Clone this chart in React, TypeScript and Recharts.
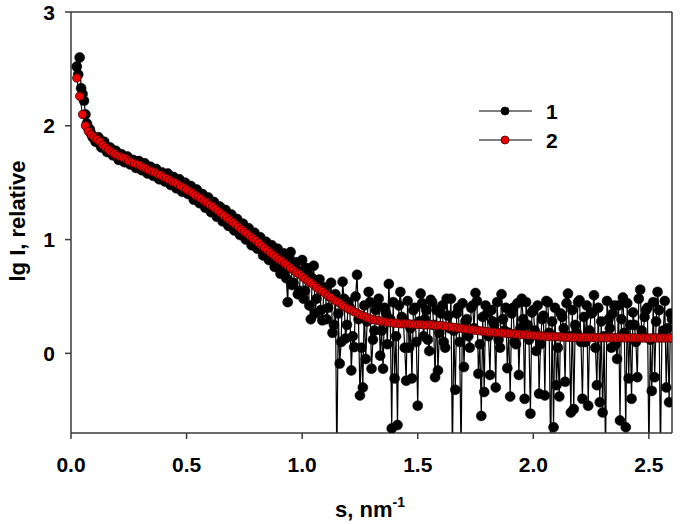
import {
  Line,
  LineChart,
  ReferenceLine,
  XAxis,
  YAxis,
} from "recharts";

// s grid: first point and spacing of the measurement, nm^-1
const S_START = 0.025;
const S_STEP = 0.0125;

// curve 1 – experimental lg I, points on the grid
const measured = [
  2.52, 2.60, 2.28, 2.10, 1.98, 1.93, 1.89, 1.87, 1.84, 1.82,
  1.80, 1.78, 1.77, 1.75, 1.74, 1.72, 1.72, 1.70, 1.69, 1.68,
  1.66, 1.67, 1.64, 1.64, 1.62, 1.63, 1.59, 1.61, 1.57, 1.57,
  1.55, 1.56, 1.52, 1.53, 1.49, 1.51, 1.46, 1.49, 1.44, 1.46,
  1.40, 1.42, 1.36, 1.39, 1.33, 1.35, 1.29, 1.32, 1.25, 1.28,
  1.21, 1.24, 1.17, 1.20, 1.13, 1.17, 1.08, 1.12, 1.04, 1.08,
  1.00, 1.04, 0.95, 1.00, 0.91, 0.96, 0.86, 0.93, 0.82, 0.90,
  0.76, 0.86, 0.72, 0.45, 0.89, 0.62, 0.80, 0.55, 0.82, 0.55,
  0.70, 0.30, 0.77, 0.48, 0.65, 0.29, 0.58, 0.40, 0.62, 0.25,
  -0.95, -0.09, 0.63, 0.13, 0.45, -0.15, 0.055, 0.69, -0.37, -0.30,
  -0.05, 0.54, -0.135, 0.20, 0.42, -0.02, -0.135, 0.35, 0.61, -0.66,
  -0.22, -0.63, 0.54, 0.30, -0.24, 0.05, -0.22, 0.40, -0.46, 0.525,
  0.15, 0.38, 0.02, 0.45, -0.21, -0.15, 0.35, 0.10, 0.48, 0.22,
  -0.90, -0.32, 0.40, -0.90, -0.12, 0.30, 0.05, 0.42, 0.53, -0.18,
  -0.55, -0.34, 0.35, -0.19, 0.28, -0.30, 0.12, 0.52, 0.20, -0.13,
  -0.38, 0.40, 0.08, -0.19, 0.48, -0.40, 0.25, -0.53, 0.38, 0.02,
  -0.355, 0.30, -0.37, 0.45, -0.90, -0.65, -0.28, -0.38, 0.32, -0.25,
  0.525, -0.52, -0.49, 0.18, 0.466, -0.40, 0.10, -0.46, 0.35, 0.51,
  -0.28, -0.43, -0.52, -0.90, 0.30, 0.05, 0.42, -0.05, -0.59, 0.49,
  -0.65, -0.22, -0.40, 0.25, -0.21, 0.56, 0.15, 0.38, -0.90, -0.33,
  -0.21, 0.54, -0.90, 0.20, -0.30, -0.43, 0.30,
];

// curve 1 – points half a step after each grid point
const measuredHalf = [
  2.45, 2.33, 2.22, 2.02, 1.97, 1.90, 1.86, 1.90, 1.81, 1.86,
  1.77, 1.81, 1.74, 1.78, 1.70, 1.75, 1.68, 1.73, 1.66, 1.70,
  1.63, 1.69, 1.61, 1.67, 1.58, 1.64, 1.56, 1.62, 1.53, 1.59,
  1.51, 1.58, 1.48, 1.55, 1.45, 1.53, 1.42, 1.50, 1.40, 1.47,
  1.35, 1.44, 1.32, 1.40, 1.28, 1.37, 1.24, 1.33, 1.20, 1.29,
  1.16, 1.26, 1.12, 1.22, 1.08, 1.18, 1.04, 1.14, 1.00, 1.10,
  0.95, 1.06, 0.92, 1.02, 0.86, 0.98, 0.82, 0.95, 0.76, 0.92,
  0.70, 0.88, 0.66, 0.85, 0.60, 0.78, 0.52, 0.72, 0.48, 0.75,
  0.42, 0.66, 0.35, 0.60, 0.38, 0.55, 0.30, 0.50, 0.18, 0.52,
  0.35, 0.10, 0.48, 0.25, 0.40, 0.15, 0.50, 0.30, 0.05, 0.42,
  0.28, 0.45, 0.12, 0.38, 0.48, 0.20, 0.40, 0.08, 0.30, 0.45,
  0.15, 0.42, 0.32, 0.05, 0.46, 0.22, 0.38, 0.10, 0.28, 0.44,
  0.30, 0.12, 0.47, 0.25, 0.38, 0.18, 0.42, 0.05, 0.33, 0.48,
  0.20, 0.35, 0.10, 0.44, 0.28, 0.15, 0.40, 0.22, 0.46, 0.08,
  0.32, 0.42, 0.15, 0.38, 0.25, 0.45, 0.05, 0.30, 0.40, 0.18,
  0.35, 0.10, 0.44, 0.22, 0.30, 0.45, 0.12, 0.36, 0.20, 0.42,
  0.08, 0.33, 0.46, 0.18, 0.28, 0.40, 0.05, 0.35, 0.22, 0.44,
  0.15, 0.38, 0.25, 0.45, 0.10, 0.32, 0.42, 0.20, 0.36, 0.05,
  0.40, 0.28, 0.15, 0.46, 0.22, 0.35, 0.08, 0.42, 0.30, 0.18,
  0.44, 0.25, 0.36, 0.10, 0.48, 0.20, 0.32, 0.40, 0.12, 0.45,
  0.28, 0.38, 0.15, 0.46, 0.22, 0.35,
];

// curve 2 – fit, on the grid
const fitted = [
  2.42, 2.26, 2.10, 2.00, 1.95, 1.92, 1.90, 1.88, 1.86, 1.83,
  1.81, 1.79, 1.77, 1.755, 1.74, 1.73, 1.72, 1.71, 1.69, 1.68,
  1.67, 1.66, 1.65, 1.635, 1.625, 1.61, 1.60, 1.59, 1.575, 1.565,
  1.55, 1.54, 1.525, 1.51, 1.50, 1.485, 1.47, 1.455, 1.44, 1.425,
  1.41, 1.39, 1.375, 1.36, 1.34, 1.325, 1.305, 1.29, 1.27, 1.25,
  1.23, 1.21, 1.19, 1.17, 1.15, 1.13, 1.11, 1.09, 1.07, 1.05,
  1.03, 1.01, 0.99, 0.97, 0.945, 0.925, 0.905, 0.885, 0.865, 0.845,
  0.825, 0.81, 0.79, 0.77, 0.75, 0.73, 0.71, 0.695, 0.675, 0.655,
  0.635, 0.62, 0.60, 0.58, 0.56, 0.545, 0.525, 0.505, 0.49, 0.47,
  0.455, 0.44, 0.42, 0.405, 0.39, 0.38, 0.365, 0.355, 0.34, 0.33,
  0.32, 0.31, 0.30, 0.295, 0.29, 0.285, 0.28, 0.275, 0.27, 0.27,
  0.265, 0.265, 0.26, 0.26, 0.26, 0.26, 0.255, 0.255, 0.255, 0.255,
  0.25, 0.25, 0.25, 0.25, 0.245, 0.245, 0.245, 0.24, 0.237, 0.233,
  0.23, 0.227, 0.223, 0.22, 0.217, 0.213, 0.21, 0.207, 0.203, 0.2,
  0.197, 0.193, 0.19, 0.188, 0.186, 0.184, 0.182, 0.18, 0.178, 0.176,
  0.174, 0.172, 0.17, 0.168, 0.166, 0.164, 0.162, 0.16, 0.158, 0.156,
  0.154, 0.152, 0.15, 0.149, 0.148, 0.147, 0.146, 0.145, 0.144, 0.143,
  0.142, 0.142, 0.141, 0.141, 0.14, 0.14, 0.14, 0.139, 0.139, 0.139,
  0.138, 0.138, 0.138, 0.138, 0.137, 0.137, 0.137, 0.137, 0.137, 0.136,
  0.136, 0.136, 0.136, 0.136, 0.136, 0.136, 0.135, 0.135, 0.135, 0.135,
  0.135, 0.135, 0.135, 0.135, 0.135, 0.135, 0.135,
];

const xTicks = [0, 0.5, 1, 1.5, 2, 2.5];
const yTicks = [0, 1, 2, 3];

const sAt = (i: number) => Number((S_START + i * S_STEP).toFixed(5));

const measuredData: { s: number; v: number }[] = [];
measured.forEach((v, i) => {
  measuredData.push({ s: sAt(i), v });
  if (i < measuredHalf.length) {
    measuredData.push({ s: sAt(i + 0.5), v: measuredHalf[i] });
  }
});

const fittedData = fitted.map((v, i) => ({ s: sAt(i), v }));

const FONT = "'Liberation Sans', Arial, sans-serif";
const AXIS = "#3a3a3a";

const tickStyle = {
  fontFamily: FONT,
  fontSize: 21,
  fontWeight: 700,
  fill: "#000",
};

function LegendOverlay() {
  const rows = [
    { name: "1", fill: "#000", stroke: "#000" },
    { name: "2", fill: "#f00000", stroke: "#3a0000" },
  ];
  return (
    <svg
      width={100}
      height={60}
      style={{ position: "absolute", left: 470, top: 101 }}
    >
      {rows.map((r, i) => (
        <g key={r.name} transform={`translate(0, ${10 + i * 29})`}>
          <line x1={9} x2={62} y1={0} y2={0} stroke="#000" strokeWidth={1} />
          <circle cx={35} cy={0} r={4} fill={r.fill} stroke={r.stroke} strokeWidth={0.8} />
          <text
            x={76}
            y={0}
            dy="0.36em"
            fontFamily={FONT}
            fontSize={21}
            fontWeight={700}
          >
            {r.name}
          </text>
        </g>
      ))}
    </svg>
  );
}

function XTitle() {
  return (
    <text x={335} y={517} fontFamily={FONT} fontSize={22} fontWeight={700}>
      s, nm
      <tspan fontSize={14} dy={-10}>
        -1
      </tspan>
    </text>
  );
}

function YTitle() {
  return (
    <text
      x={0}
      y={0}
      transform="translate(25, 221) rotate(-90)"
      textAnchor="middle"
      fontFamily={FONT}
      fontSize={22}
      fontWeight={700}
    >
      lg I, relative
    </text>
  );
}

export default function App() {
  return (
    <div
      style={{
        position: "absolute",
        left: 0,
        top: 0,
        width: 680,
        height: 524,
        background: "#fff",
      }}
    >
      <LineChart
        width={680}
        height={524}
        margin={{ top: 12, right: 8, bottom: 0, left: 0 }}
      >
        <XAxis
          dataKey="s"
          type="number"
          domain={[0, 2.6]}
          ticks={xTicks}
          allowDataOverflow
          tickFormatter={(v: number) => v.toFixed(1)}
          tick={tickStyle}
          tickSize={6}
          tickMargin={18}
          height={91}
          stroke={AXIS}
          strokeWidth={1.5}
          label={<XTitle />}
        />
        <YAxis
          type="number"
          domain={[-0.7, 3]}
          ticks={yTicks}
          allowDataOverflow
          tick={tickStyle}
          tickSize={6}
          tickMargin={10}
          width={71}
          stroke={AXIS}
          strokeWidth={1.5}
          label={<YTitle />}
        />
        <ReferenceLine y={3} stroke={AXIS} strokeWidth={1.5} />
        <ReferenceLine x={2.6} stroke={AXIS} strokeWidth={1.5} />
        <Line
          data={measuredData}
          dataKey="v"
          type="linear"
          stroke="#000"
          strokeWidth={1.2}
          dot={{ r: 5, fill: "#000", stroke: "#000", strokeWidth: 0.5 }}
          isAnimationActive={false}
        />
        <Line
          data={fittedData}
          dataKey="v"
          type="linear"
          stroke="#000"
          strokeWidth={1}
          dot={{ r: 4.2, fill: "#f00000", stroke: "#3a0000", strokeWidth: 0.8 }}
          isAnimationActive={false}
        />
      </LineChart>
      <LegendOverlay />
    </div>
  );
}
